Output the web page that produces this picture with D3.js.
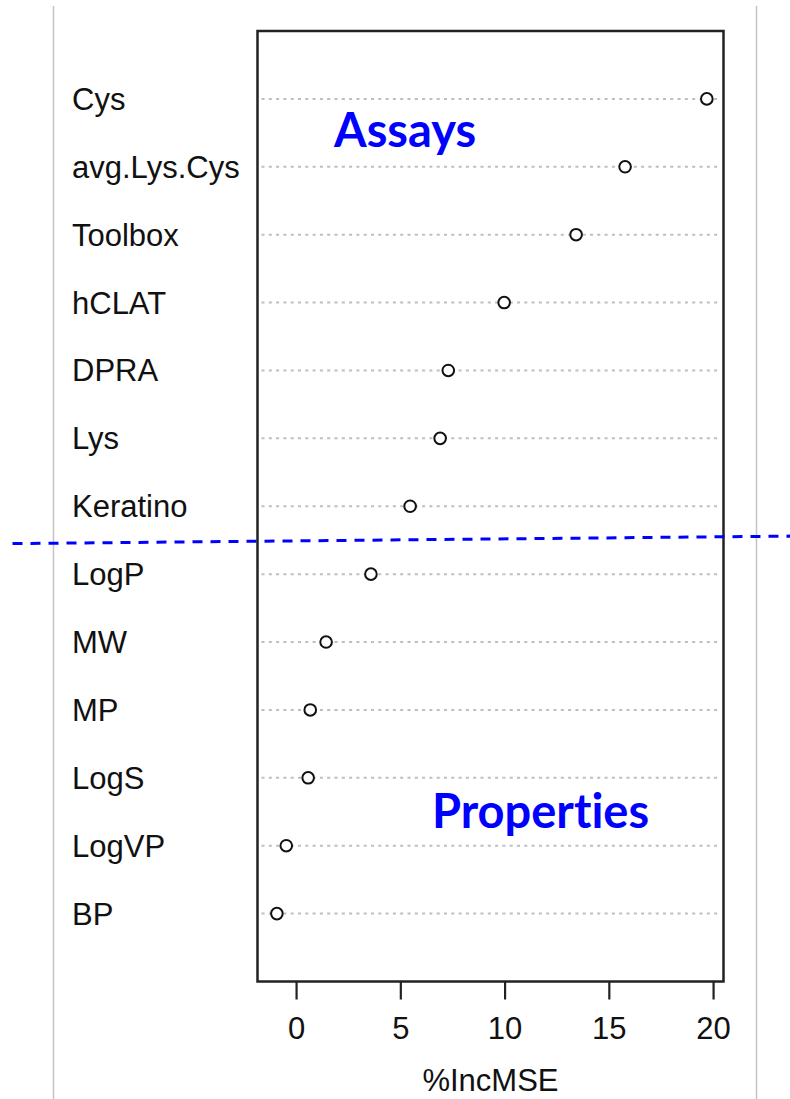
<!DOCTYPE html>
<html>
<head>
<meta charset="utf-8">
<script src="https://cdn.jsdelivr.net/npm/d3@7"></script>
<style>
  body { margin: 0; background: #fff; }
  text { font-family: "Liberation Sans", Arial, sans-serif; }
  .group { font-feature-settings: "liga" 0, "clig" 0, "dlig" 0; font-variant-ligatures: none; }
</style>
</head>
<body>
<svg></svg>
<script>
var width = 790;
var height = 1099;

// variables, top to bottom as drawn
var variables = ["Cys", "avg.Lys.Cys", "Toolbox", "hCLAT", "DPRA", "Lys", "Keratino",
                 "LogP", "MW", "MP", "LogS", "LogVP", "BP"];
var incMSE = [19.70, 15.78, 13.43, 9.98, 7.30, 6.91, 5.47,
              3.59, 1.44, 0.68, 0.58, -0.47, -0.92];
var xTicks = [0, 5, 10, 15, 20];
var groupLabels = ["Assays", "Properties"];

var plotLeft = 257.5, plotRight = 723.5, plotTop = 31, plotBottom = 981.5;

var x = d3.scaleLinear()
          .domain([-1.85, 20.5])
          .range([plotLeft, plotRight]);

// dotchart positions 1..n from the bottom, ylim 0..n+1
var y = d3.scaleLinear()
          .domain([0, variables.length + 1])
          .range([plotBottom, plotTop]);

var rows = variables.map((v, i) => ({ name: v, value: incMSE[i], pos: variables.length - i }));

var svg = d3.select("svg")
            .attr("width", width)
            .attr("height", height);

// faint page edges
svg.selectAll(".edge")
    .data([53.5, 756.5])
    .enter()
    .append("line")
        .attr("x1", d => d).attr("x2", d => d)
        .attr("y1", 6).attr("y2", height)
        .attr("stroke", "#c4c4c4")
        .attr("stroke-width", 1.5);

// dotted guide lines
svg.selectAll(".guide")
    .data(rows)
    .enter()
    .append("line")
        .attr("x1", plotLeft + 4)
        .attr("x2", plotRight - 4)
        .attr("y1", d => y(d.pos))
        .attr("y2", d => y(d.pos))
        .attr("stroke", "#bebebe")
        .attr("stroke-width", 2)
        .attr("stroke-dasharray", "3,4.3");

// variable labels
svg.selectAll(".label")
    .data(rows)
    .enter()
    .append("text")
        .attr("x", 72)
        .attr("y", d => y(d.pos) + 11)
        .style("font-size", "31px")
        .style("fill", "#111")
        .text(d => d.name);

// points
svg.selectAll(".pt")
    .data(rows)
    .enter()
    .append("circle")
        .attr("cx", d => x(d.value))
        .attr("cy", d => y(d.pos))
        .attr("r", 5.8)
        .attr("fill", "#fff")
        .attr("stroke", "#111")
        .attr("stroke-width", 2);

// frame
svg.append("rect")
    .attr("x", plotLeft)
    .attr("y", plotTop)
    .attr("width", plotRight - plotLeft)
    .attr("height", plotBottom - plotTop)
    .attr("fill", "none")
    .attr("stroke", "#222")
    .attr("stroke-width", 2.5);

// x axis
var xAxis = svg.append("g")
    .attr("transform", "translate(0," + plotBottom + ")")
    .call(d3.axisBottom(x).tickValues(xTicks).tickSize(18).tickPadding(17).tickSizeOuter(0));

xAxis.select(".domain").remove();
xAxis.selectAll(".tick line").attr("stroke", "#222").attr("stroke-width", 2.2);
xAxis.selectAll(".tick text")
    .style("font-size", "31px")
    .style("font-family", "'Liberation Sans', Arial, sans-serif")
    .attr("fill", "#111");

svg.append("text")
    .attr("x", (plotLeft + plotRight) / 2)
    .attr("y", 1091)
    .style("text-anchor", "middle")
    .style("font-size", "31px")
    .style("fill", "#111")
    .text("%IncMSE");

// blue divider between assays and properties
var divider = [[-13.6, 6.45], [23.7, 6.56]];
svg.append("line")
    .attr("x1", x(divider[0][0])).attr("y1", y(divider[0][1]))
    .attr("x2", x(divider[1][0])).attr("y2", y(divider[1][1]))
    .attr("stroke", "#0000ff")
    .attr("stroke-width", 3)
    .attr("stroke-dasharray", "10,8");

// group annotations (value, position of the text's left/baseline)
var groupPos = [[1.82, 12.29], [6.52, 2.26]];
svg.selectAll(".group")
    .data(groupLabels)
    .enter()
    .append("text")
        .attr("class", "group")
        .attr("x", (d, i) => x(groupPos[i][0]))
        .attr("y", (d, i) => y(groupPos[i][1]))
        .style("font-family", "Lato, 'Open Sans', sans-serif")
        .style("font-weight", "bold")
        .style("font-size", "47px")
        .style("fill", "#0000ff")
        .text(d => d);
</script>
</body>
</html>
